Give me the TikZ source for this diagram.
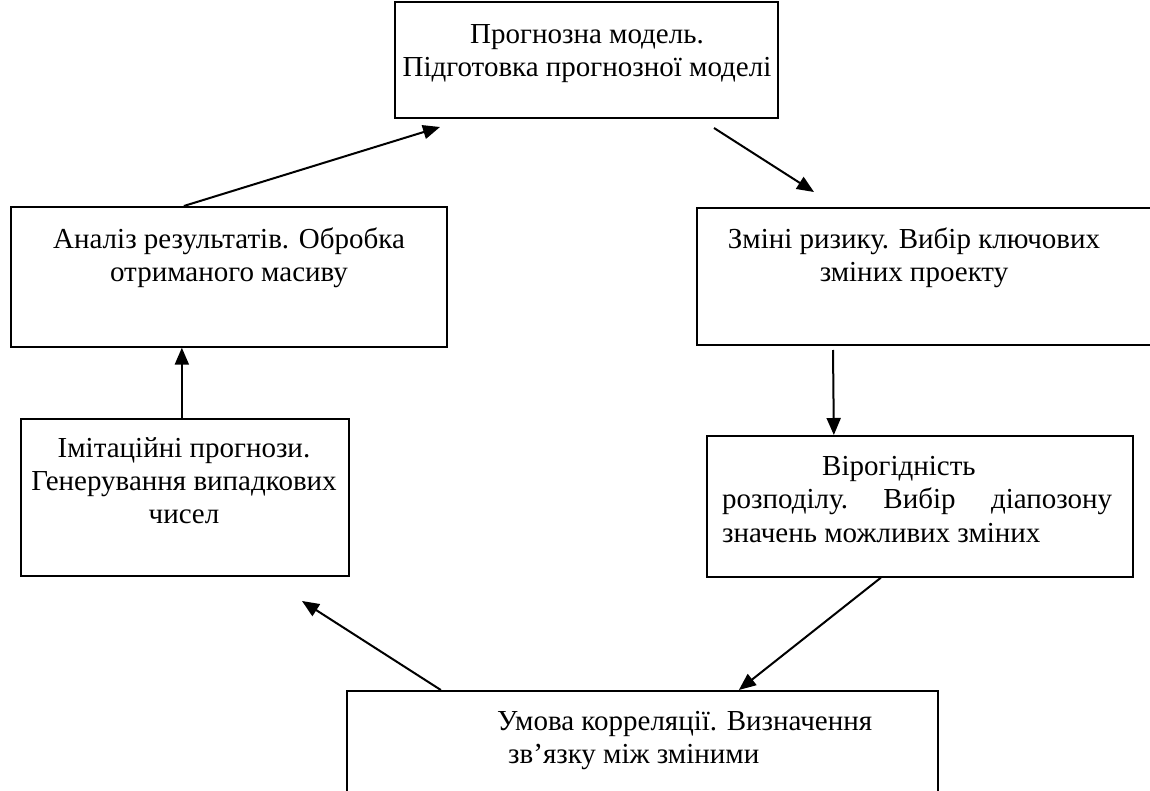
\documentclass[tikz,border=0pt]{standalone}
\usepackage{fontspec}
\setmainfont{Liberation Serif}
\usetikzlibrary{arrows.meta,calc}
\begin{document}
\begin{tikzpicture}[x=1pt,y=-1pt,
  box/.style={draw, line width=1.7pt, inner sep=0pt, anchor=north west},
  lbl/.style={inner sep=0pt, anchor=north, align=center, font=\fontsize{29}{33}\selectfont},
  lbll/.style={inner sep=0pt, anchor=north west, align=left, font=\fontsize{29}{33.5}\selectfont},
  arr/.style={line width=2pt, -{Triangle[length=17pt,width=14pt]}}]
\useasboundingbox (0,0) rectangle (1150,791);
\clip (0,0) rectangle (1150,791);
% boxes
\node[box, minimum width=383pt, minimum height=116pt] (b1) at (394,1) {};
\node[box, minimum width=436pt, minimum height=140pt] (b2) at (10,206) {};
\node[box, minimum width=470pt, minimum height=137pt] (b3) at (696,207) {};
\node[box, minimum width=328pt, minimum height=157pt] (b4) at (20,418) {};
\node[box, minimum width=426pt, minimum height=141pt] (b5) at (706,435) {};
\node[box, minimum width=591pt, minimum height=120pt] (b6) at (346,690) {};
% texts
\node[lbl] (l1) at (587,24) {Прогнозна модель.\\Підготовка прогнозної моделі};
\node[lbl] (l2) at (229,228) {Аналіз результатів. Обробка\\отриманого масиву};
\node[lbl] (l3) at (914,228) {Зміні ризику. Вибір ключових\\зміних проекту};
\node[lbl] (l4) at (184,437) {Імітаційні прогнози.\\Генерування випадкових\\чисел};
\node[lbll] (l5) at (722,456) {\hspace*{100pt}Вірогідність\\\makebox[390pt][s]{розподілу.\hfill Вибір\hfill діапозону}\\значень можливих зміних};
\node[lbll] (l6) at (497,711) {Умова корреляції. Визначення\\\hspace*{11pt}зв’язку між зміними};
% free ends
\coordinate (t1) at (440,127);
\coordinate (s2) at (714,128);
\coordinate (t2) at (814,192);
\coordinate (s3) at (833,350);
\coordinate (t5) at (302,601);
% connectors
\draw[arr] ([xshift=-45pt]b2.north) -- (t1);
\draw[arr] (s2) -- (t2);
\draw[arr] (s3) -- ([xshift=-86pt]b5.north);
\draw[arr] ([xshift=-39pt]b5.south) -- ([xshift=96.5pt]b6.north);
\draw[arr] ([xshift=-201.5pt]b6.north) -- (t5);
\draw[arr] ([xshift=-3pt]b4.north) -- ([xshift=-47pt]b2.south);
\end{tikzpicture}
\end{document}
